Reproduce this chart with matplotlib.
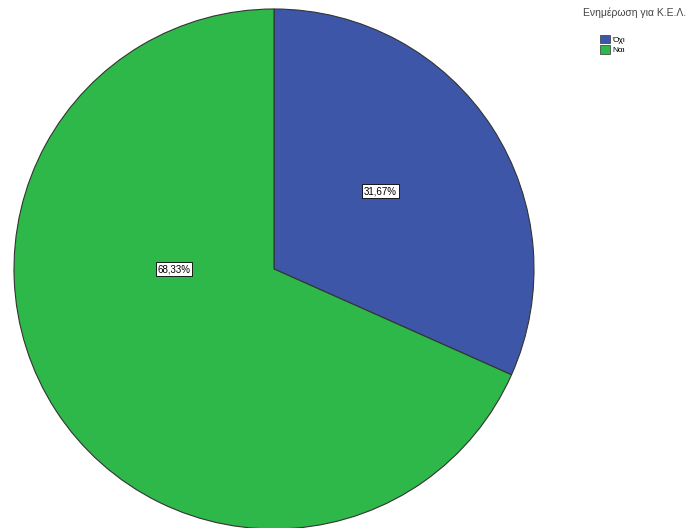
import matplotlib
matplotlib.use('Agg')
import matplotlib.pyplot as plt
from matplotlib.patches import Patch

plt.rcParams['font.family'] = ['Liberation Sans', 'DejaVu Sans']

# answers and their shares (%)
labels = ['Όχι', 'Ναι']
shares = [31.67, 68.33]
colors = ['#3d56a8', '#2fb84a']
legend_title = 'Ενημέρωση για Κ.Ε.Λ.'

fig = plt.figure(figsize=(6.88, 5.28), dpi=100)
ax = fig.add_axes([14 / 688, -1 / 528, 520 / 688, 520 / 528])

wedges, texts, pcts = ax.pie(
    shares, colors=colors, startangle=90, counterclock=False,
    autopct=lambda p: f'{p:.2f}%', pctdistance=0.5,
    wedgeprops=dict(edgecolor='#333333', linewidth=0.8),
    textprops=dict(fontsize=7, color='black'))

for t in pcts:
    t.set_bbox(dict(facecolor='white', edgecolor='black', linewidth=0.6, pad=1.2))
    t.set_text(t.get_text().replace('.', ','))
# SPSS puts the big-slice label left of the centre
pcts[0].set_position((0.41, 0.30))
pcts[1].set_position((-0.385, 0.0))

ax.set_xlim(-1, 1)
ax.set_ylim(-1, 1)
ax.set_aspect('equal')
ax.axis('off')

# legend title and entries, SPSS style
fig.text(583 / 688, 1 - 13 / 528, legend_title, fontsize=7.5, color='#444444',
         ha='left', va='center', fontstretch='condensed')
handles = [Patch(facecolor=c, edgecolor='#333333', linewidth=0.5) for c in colors]
fig.legend(handles, labels, loc='upper left',
           bbox_to_anchor=(594 / 688, 1 - 29 / 528), frameon=False,
           fontsize=6, handlelength=1.2, handleheight=1.2,
           handletextpad=0.3, labelspacing=0.15, borderpad=0.2)

fig.savefig('out.png', dpi=100)
